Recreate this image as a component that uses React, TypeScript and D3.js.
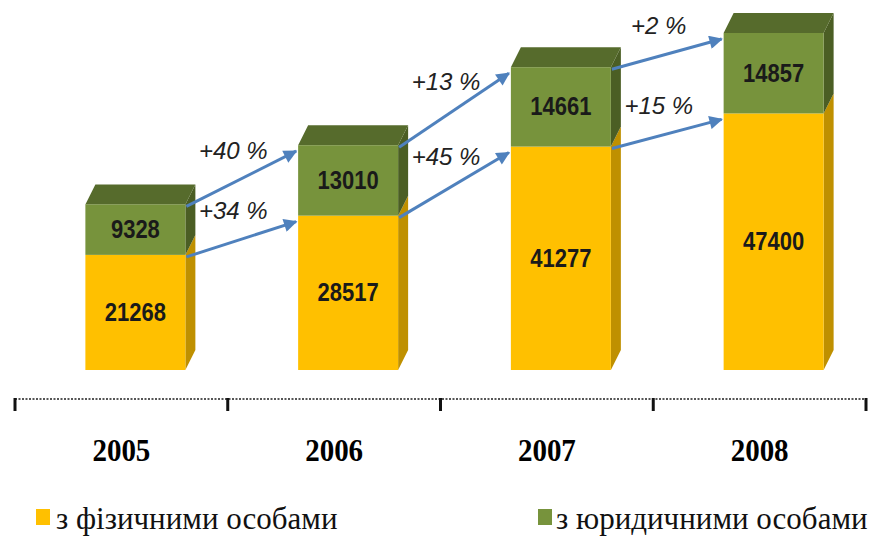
import React from "react";
import * as d3 from "d3";

const years = ["2005", "2006", "2007", "2008"];
const individuals = [21268, 28517, 41277, 47400];
const legalEntities = [9328, 13010, 14661, 14857];
const individualsGrowth = ["+34 %", "+45 %", "+15 %"];
const legalGrowth = ["+40 %", "+13 %", "+2 %"];
const seriesNames = ["з фізичними особами", "з юридичними особами"];

const W = 874;
const H = 540;

const C = {
  yFront: "#FFC000",
  ySide: "#BF9000",
  gFront: "#77933C",
  gTop: "#566B2C",
  gSide: "#4B5E24",
  arrow: "#4F81BD",
};

export default function App() {
  const x = d3.scaleBand<string>().domain(years).range([15, 866]).padding(0);
  const y = d3.scaleLinear().domain([0, 62257]).range([370, 33]);
  const bw = x.bandwidth() * 0.47;
  const shift = 14;
  const dx = 10;
  const dy = -20;

  const bars = years.map((yr, i) => {
    const cx = (x(yr) as number) + x.bandwidth() / 2 + shift;
    const x0 = cx - bw / 2;
    const x1 = cx + bw / 2;
    const yb = y(0);
    const ym = y(individuals[i]);
    const yt = y(individuals[i] + legalEntities[i]);
    return { yr, i, cx, x0, x1, yb, ym, yt };
  });

  const poly = (pts: [number, number][]) => pts.map((p) => p.join(",")).join(" ");

  const arrows: { x1: number; y1: number; x2: number; y2: number; label: string }[] = [];
  for (let i = 0; i < years.length - 1; i++) {
    const a = bars[i];
    const b = bars[i + 1];
    arrows.push({ x1: a.x1 + 1, y1: a.yt + 2, x2: b.x0 - 2, y2: b.yt + 6, label: legalGrowth[i] });
    arrows.push({ x1: a.x1 + 1, y1: a.ym + 2, x2: b.x0 - 2, y2: b.ym + 6, label: individualsGrowth[i] });
  }

  const axisY = 399;
  const ticks = [...years.map((yr) => x(yr) as number), x.range()[1]];

  return (
    <svg width={W} height={H} style={{ position: "absolute", left: 0, top: 0, background: "#fff" }}>
      <defs>
        <marker id="ah" viewBox="0 0 10 10" refX="9" refY="5" markerWidth="5" markerHeight="4.5" orient="auto" markerUnits="strokeWidth">
          <path d="M0,0 L10,5 L0,10 Z" fill={C.arrow} />
        </marker>
      </defs>
      <rect width={W} height={H} fill="#fff" />

      {bars.map((b) => (
        <g key={b.yr}>
          <polygon
            points={poly([[b.x1, b.yb], [b.x1 + dx, b.yb + dy], [b.x1 + dx, b.ym + dy], [b.x1, b.ym]])}
            fill={C.ySide}
          />
          <polygon
            points={poly([[b.x1, b.ym], [b.x1 + dx, b.ym + dy], [b.x1 + dx, b.yt + dy], [b.x1, b.yt]])}
            fill={C.gSide}
          />
          <polygon
            points={poly([[b.x0, b.yt], [b.x0 + dx, b.yt + dy], [b.x1 + dx, b.yt + dy], [b.x1, b.yt]])}
            fill={C.gTop}
          />
          <rect x={b.x0} y={b.ym} width={bw} height={b.yb - b.ym} fill={C.yFront} />
          <rect x={b.x0} y={b.yt} width={bw} height={b.ym - b.yt} fill={C.gFront} />
          <text
            transform={`translate(${b.cx},${(b.yt + b.ym) / 2}) scale(1,1.15)`}
            textAnchor="middle"
            dominantBaseline="central"
            fontFamily="Liberation Sans, Arial, sans-serif"
            fontWeight="bold"
            fontSize={22}
            fill="#1a1a1a"
          >
            {legalEntities[b.i]}
          </text>
          <text
            transform={`translate(${b.cx},${(b.ym + b.yb) / 2}) scale(1,1.15)`}
            textAnchor="middle"
            dominantBaseline="central"
            fontFamily="Liberation Sans, Arial, sans-serif"
            fontWeight="bold"
            fontSize={22}
            fill="#1a1a1a"
          >
            {individuals[b.i]}
          </text>
        </g>
      ))}

      {arrows.map((a, k) => (
        <g key={k}>
          <line x1={a.x1} y1={a.y1} x2={a.x2} y2={a.y2} stroke={C.arrow} strokeWidth={3} markerEnd="url(#ah)" />
          <text
            x={(a.x1 + a.x2) / 2 - 8}
            y={(a.y1 + a.y2) / 2 - 20}
            textAnchor="middle"
            fontFamily="Liberation Sans, Arial, sans-serif"
            fontStyle="italic"
            fontSize={24}
            fill="#222"
          >
            {a.label}
          </text>
        </g>
      ))}

      <line x1={ticks[0]} y1={axisY} x2={ticks[ticks.length - 1]} y2={axisY} stroke="#555" strokeWidth={2} strokeDasharray="2,1.5" />
      {ticks.map((t, k) => (
        <line key={k} x1={t} y1={axisY - 1} x2={t} y2={axisY + 12} stroke="#111" strokeWidth={3} />
      ))}
      {years.map((yr) => (
        <text
          key={yr}
          transform={`translate(${(x(yr) as number) + x.bandwidth() / 2},461) scale(1,1.08)`}
          textAnchor="middle"
          fontFamily="Liberation Serif, Times New Roman, serif"
          fontWeight="bold"
          fontSize={29}
          fill="#000"
        >
          {yr}
        </text>
      ))}

      <rect x={36} y={509} width={14} height={16} fill={C.yFront} />
      <text x={56} y={529} fontFamily="Liberation Serif, Times New Roman, serif" fontSize={31} fill="#111">
        {seriesNames[0]}
      </text>
      <rect x={538} y={509} width={14} height={16} fill={C.gFront} />
      <text x={556} y={529} fontFamily="Liberation Serif, Times New Roman, serif" fontSize={31} fill="#111">
        {seriesNames[1]}
      </text>
    </svg>
  );
}
